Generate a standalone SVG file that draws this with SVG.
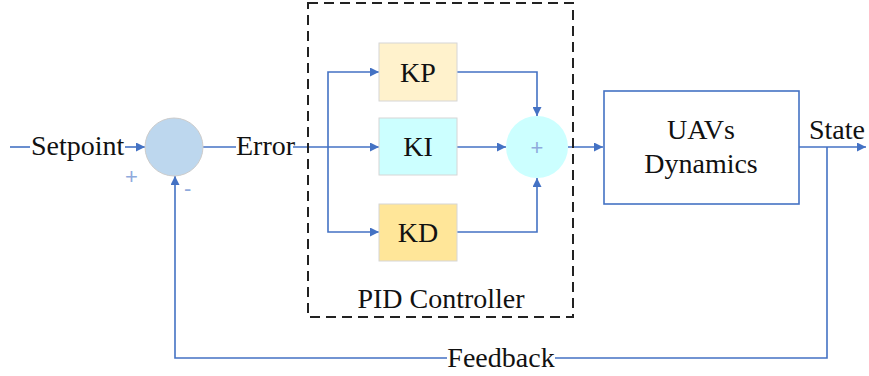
<svg xmlns="http://www.w3.org/2000/svg" width="869" height="376" viewBox="0 0 869 376">
<style>
.t{font-family:"Liberation Serif","Times New Roman",serif;font-size:28px;fill:#111;}
.c{text-anchor:middle;}
.ln{fill:none;stroke:#4472c4;stroke-width:1.6;}
.box{stroke:#d6d6d6;stroke-width:1;}
.pl{font-family:"Liberation Sans",Arial,sans-serif;font-size:22px;fill:#8faadc;}
</style>
<defs>
<marker id="ar" viewBox="0 0 10 10" refX="10" refY="5" markerWidth="11" markerHeight="9" markerUnits="userSpaceOnUse" orient="auto">
<path d="M0,0 L10,5 L0,10 z" fill="#4472c4"/>
</marker>
</defs>
<rect width="869" height="376" fill="#fff"/>
<g id="connectors">
<line class="ln" x1="10" y1="147" x2="30" y2="147"/>
<line class="ln" x1="125" y1="147" x2="145" y2="147" marker-end="url(#ar)"/>
<line class="ln" x1="203" y1="147" x2="236" y2="147"/>
<line class="ln" x1="293" y1="147" x2="379" y2="147" marker-end="url(#ar)"/>
<polyline class="ln" points="328,147 328,72 379,72" marker-end="url(#ar)"/>
<polyline class="ln" points="328,147 328,232 379,232" marker-end="url(#ar)"/>
<polyline class="ln" points="457,72 537,72 537,116" marker-end="url(#ar)"/>
<line class="ln" x1="457" y1="147" x2="506" y2="147" marker-end="url(#ar)"/>
<polyline class="ln" points="457,232 537,232 537,178" marker-end="url(#ar)"/>
<line class="ln" x1="568" y1="147" x2="603" y2="147" marker-end="url(#ar)"/>
<line class="ln" x1="799" y1="147" x2="866" y2="147" marker-end="url(#ar)"/>
<polyline class="ln" points="827,147 827,358 555,358"/>
<polyline class="ln" points="447,358 175,358 175,176" marker-end="url(#ar)"/>
</g>
<g id="pid">
<rect x="308" y="3" width="265" height="314" fill="none" stroke="#222" stroke-width="2" stroke-dasharray="10,6"/>
<text class="t c" x="441" y="308">PID Controller</text>
</g>
<g id="sum1">
<circle cx="174" cy="147" r="29" fill="#bdd7ee" stroke="#cccccc" stroke-width="1"/>
<text class="pl" x="125" y="184">+</text>
<text class="pl" x="184" y="196">-</text>
</g>
<g id="kp">
<rect class="box" x="379" y="43" width="78" height="58" fill="#fff2cc"/>
<text class="t c" x="418" y="82">KP</text>
</g>
<g id="ki">
<rect class="box" x="379" y="118" width="78" height="57" fill="#ccffff"/>
<text class="t c" x="418" y="156">KI</text>
</g>
<g id="kd">
<rect class="box" x="379" y="204" width="78" height="57" fill="#ffe699"/>
<text class="t c" x="418" y="242">KD</text>
</g>
<g id="sum2">
<circle cx="537" cy="147" r="31" fill="#ccffff"/>
<text class="pl c" x="537" y="155">+</text>
</g>
<g id="uav">
<rect x="604" y="91" width="195" height="113" fill="#fff" stroke="#4472c4" stroke-width="1.6"/>
<text class="t c" x="701" y="139">UAVs</text>
<text class="t c" x="701" y="173">Dynamics</text>
</g>
<g id="labels">
<text class="t" x="31" y="155">Setpoint</text>
<text class="t" x="236" y="155">Error</text>
<text class="t" x="809" y="139">State</text>
<text class="t c" x="501" y="367">Feedback</text>
</g>
</svg>
